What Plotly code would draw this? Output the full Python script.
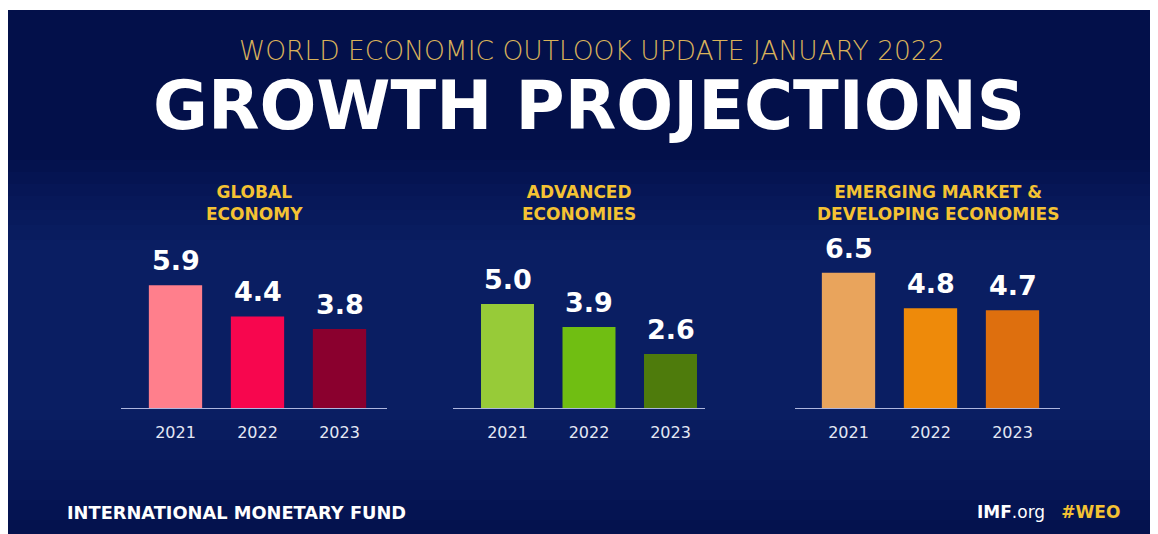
import plotly.graph_objects as go

years = ["2021", "2022", "2023"]
panel_titles = ["GLOBAL<br>ECONOMY", "ADVANCED<br>ECONOMIES", "EMERGING MARKET &<br>DEVELOPING ECONOMIES"]
global_economy = [5.9, 4.4, 3.8]
advanced_economies = [5.0, 3.9, 2.6]
emerging_developing = [6.5, 4.8, 4.7]
global_colors = ["#FF7F8C", "#F7064E", "#8A002E"]
advanced_colors = ["#97CB38", "#70BE12", "#4E7B0C"]
emerging_colors = ["#E9A45C", "#EE8A0A", "#DE6F0E"]

W, H = 1158, 534
OX, OY = 8, 8  # page body offset
NAVY = "#03104A"


def px(x):
    return (x - OX) / W


def py(y):
    return 1 - (y - OY) / H


series = [global_economy, advanced_economies, emerging_developing]
colors = [global_colors, advanced_colors, emerging_colors]
# pixel geometry of each panel: (baseline left, baseline right, centre of middle bar, spacing)
geo = [(121, 387, 257.5, 82), (453, 705, 589, 81.5), (795, 1060, 930.5, 82)]
title_cx = [254, 579, 938]

fig = go.Figure()
base_y = 408
unit = 20.8
ymax = 8
ydom = [py(base_y), py(base_y - ymax * unit)]

annotations = []
for i in range(3):
    xa = "x" if i == 0 else f"x{i+1}"
    ya = "y" if i == 0 else f"y{i+1}"
    fig.add_trace(go.Bar(
        x=years, y=series[i], marker=dict(color=colors[i], line=dict(width=0)),
        width=0.65, xaxis=xa, yaxis=ya, showlegend=False, hoverinfo="x+y",
    ))
    for j, v in enumerate(series[i]):
        annotations.append(dict(
            x=j, y=v, xref=xa, yref=ya, text=f"{v:.1f}", showarrow=False,
            xanchor="center", yanchor="bottom", yshift=7,
            font=dict(family="DejaVu Sans", size=27, color="white", weight="bold"),
        ))
    l, r, c, s = geo[i]
    lo = 1 + (l - c) / s
    hi = 1 + (r - c) / s
    key = "" if i == 0 else str(i + 1)
    fig.update_layout(**{
        f"xaxis{key}": dict(
            domain=[px(l), px(r)], range=[lo, hi], type="category",
            showline=True, linecolor="#AEB6DE", linewidth=1, showgrid=False,
            zeroline=False, ticks="", ticklabelstandoff=10,
            tickfont=dict(family="DejaVu Sans", size=16, color="#E4E8F4"),
            anchor=ya, fixedrange=True,
        ),
        f"yaxis{key}": dict(
            domain=ydom, range=[0, ymax], showticklabels=False, showgrid=False,
            zeroline=False, showline=False, ticks="", anchor=xa, fixedrange=True,
        ),
    })
    annotations.append(dict(
        x=px(title_cx[i]), y=py(203), xref="paper", yref="paper",
        text=panel_titles[i], showarrow=False, xanchor="center", yanchor="middle",
        align="center",
        font=dict(family="DejaVu Sans", size=17, color="#F4C233", weight="bold"),
    ))

annotations += [
    dict(x=px(592), y=py(51), xref="paper", yref="paper", showarrow=False,
         text="WORLD ECONOMIC OUTLOOK UPDATE JANUARY 2022", xanchor="center", yanchor="middle",
         font=dict(family="DejaVu Sans", size=26.5, color="#D9B25A", weight=200)),
    dict(x=px(589), y=py(106), xref="paper", yref="paper", showarrow=False,
         text="GROWTH PROJECTIONS", xanchor="center", yanchor="middle",
         font=dict(family="DejaVu Sans", size=67, color="white", weight="bold")),
    dict(x=px(65), y=py(512), xref="paper", yref="paper", showarrow=False,
         text="INTERNATIONAL MONETARY FUND", xanchor="left", yanchor="middle",
         font=dict(family="DejaVu Sans", size=17.8, color="white", weight="bold")),
    dict(x=px(1122), y=py(512), xref="paper", yref="paper", showarrow=False,
         text="<b>IMF</b>.org   <b><span style='color:#F4C233'>#WEO</span></b>",
         xanchor="right", yanchor="middle",
         font=dict(family="DejaVu Sans", size=17, color="white")),
]

shapes = [dict(type="rect", xref="paper", yref="paper", x0=0, x1=1, y0=py(10), y1=1,
               fillcolor="white", line=dict(width=0), layer="below")]
# gradual lighter tone in the lower part (background texture)
steps = [(160, 534), (172, 520), (184, 500), (196, 480), (210, 460), (225, 440), (240, 420)]
for t, b in steps:
    shapes.append(dict(type="rect", xref="paper", yref="paper", x0=0, x1=1,
                       y0=py(b), y1=py(t), fillcolor="#16358A", opacity=0.07,
                       line=dict(width=0), layer="below"))

fig.update_layout(
    width=W, height=H, margin=dict(l=0, r=0, t=0, b=0),
    paper_bgcolor=NAVY, plot_bgcolor="rgba(0,0,0,0)",
    shapes=shapes, annotations=annotations,
)
fig.write_html("out.html")
